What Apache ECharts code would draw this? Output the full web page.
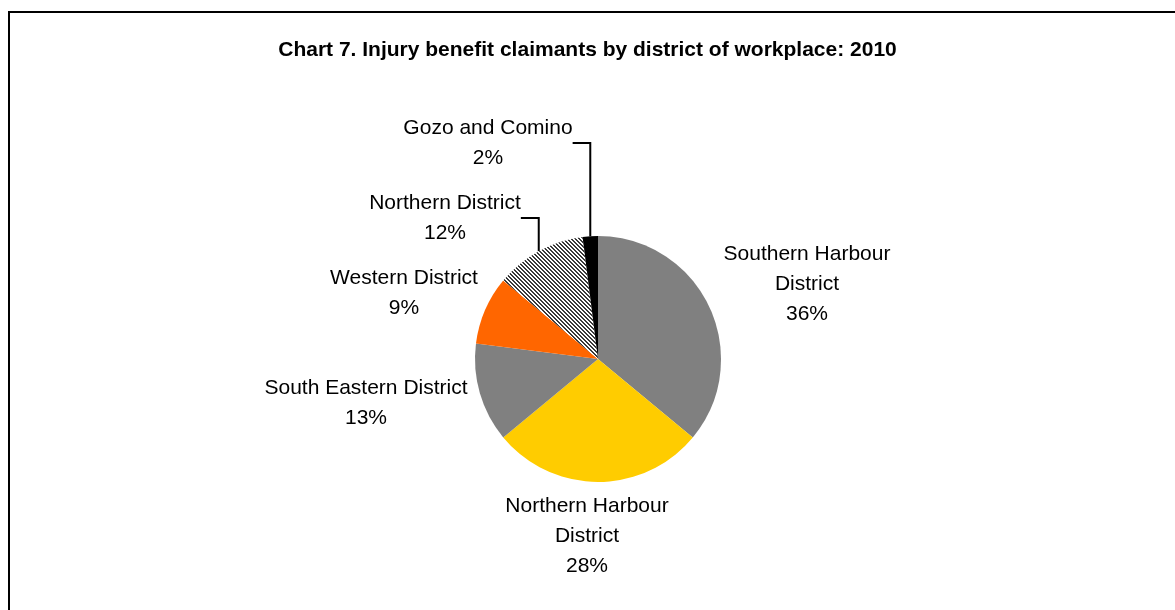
<!DOCTYPE html>
<html>
<head>
<meta charset="utf-8">
<script src="https://cdn.jsdelivr.net/npm/echarts@6/dist/echarts.min.js"></script>
<style>
  html, body { margin: 0; padding: 0; background: #fff; }
  #chart { width: 1175px; height: 610px; }
</style>
</head>
<body>
<div id="chart"></div>
<script>
// Chart 7 - injury benefit claimants by district of workplace, 2010
const districts = [
    'Southern Harbour\nDistrict',
    'Northern Harbour\nDistrict',
    'South Eastern District',
    'Western District',
    'Northern District',
    'Gozo and Comino'
];
const shares = [36, 28, 13, 9, 12, 2];

// label anchor points (centre of each text block) and which ones get a leader line
const labelPos = [[807, 284], [587, 536], [366, 403], [404, 293], [445, 218], [488, 143]];
const withLine = [false, false, false, false, true, true];

// diagonal stripe tile for Northern District
function hatch() {
    const c = document.createElement('canvas');
    c.width = 4; c.height = 4;
    const ctx = c.getContext('2d');
    ctx.fillStyle = '#fff';
    ctx.fillRect(0, 0, 4, 4);
    ctx.fillStyle = '#3a3a3a';
    for (let y = 0; y < 4; y++) {
        for (let x = 0; x < 4; x++) {
            const k = ((x - y) % 4 + 4) % 4;
            if (k === 0 || k === 1) ctx.fillRect(x, y, 1, 1);
        }
    }
    return { image: c, repeat: 'repeat' };
}

const colors = ['#808080', '#FFCC00', '#808080', '#FF6600', hatch(), '#000000'];

const chart = echarts.init(document.getElementById('chart'), null, { renderer: 'canvas' });

chart.setOption({
    backgroundColor: '#fff',
    animation: false,
    title: {
        text: 'Chart 7. Injury benefit claimants by district of workplace: 2010',
        left: 'center',
        top: 35,
        textStyle: {
            fontFamily: 'Liberation Sans, Arial, sans-serif',
            fontSize: 21,
            fontWeight: 'bold',
            color: '#000'
        }
    },
    graphic: [{
        type: 'rect',
        shape: { x: 9, y: 12, width: 2000, height: 2000 },
        style: { fill: 'none', stroke: '#000', lineWidth: 2 },
        silent: true
    }],
    series: [{
        type: 'pie',
        center: [598, 359],
        radius: 123,
        startAngle: 90,
        clockwise: true,
        avoidLabelOverlap: false,
        itemStyle: { borderWidth: 0 },
        label: {
            show: true,
            position: 'outside',
            formatter: p => p.name + '\n' + p.value + '%',
            fontFamily: 'Liberation Sans, Arial, sans-serif',
            fontSize: 21,
            lineHeight: 30,
            color: '#000',
            align: 'center'
        },
        labelLine: {
            show: false,
            lineStyle: { color: '#000', width: 2 },
            smooth: false
        },
        labelLayout: function (params) {
            const p = labelPos[params.dataIndex];
            return { x: p[0], y: p[1], align: 'center', verticalAlign: 'middle' };
        },
        emphasis: { disabled: true },
        data: districts.map((name, i) => ({
            name: name,
            value: shares[i],
            itemStyle: { color: colors[i] },
            labelLine: { show: withLine[i] }
        }))
    }]
});
</script>
</body>
</html>
